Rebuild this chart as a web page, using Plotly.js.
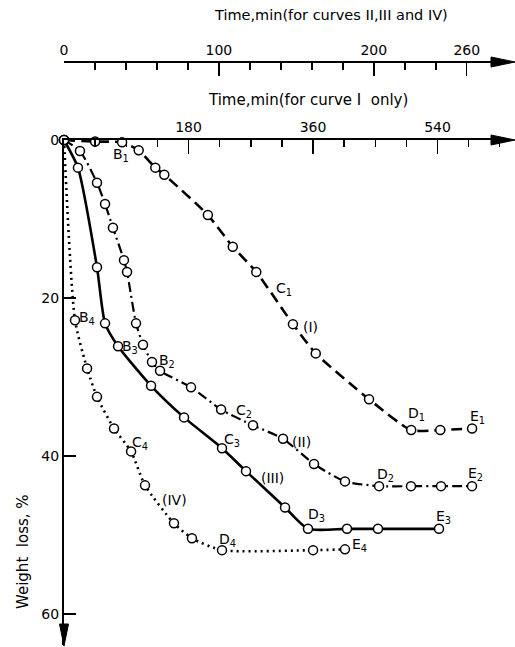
<!DOCTYPE html>
<html>
<head>
<meta charset="utf-8">
<script src="https://cdn.plot.ly/plotly-3.0.1.min.js"></script>
<style>html,body{margin:0;padding:0;background:#fff}#chart{width:515px;height:647px}</style>
</head>
<body>
<div id="chart"></div>
<script>
// Curve I (time axis: "for curve I only")
const tI = [0, 45, 84, 108, 132, 145, 208, 244, 278, 331, 364, 441, 502, 544, 590];
const wI = [0, 0.2, 0.3, 1.3, 3.5, 4.4, 9.5, 13.5, 16.7, 23.3, 27.0, 32.8, 36.7, 36.7, 36.5];
// Curve II
const tII = [0, 10.3, 21.3, 26.5, 31.6, 38.7, 40.7, 46.5, 51, 56.8, 62, 82, 101.4, 122, 141.4, 161.4, 181.4, 203.4, 224, 243.4, 263.4];
const wII = [0, 1.4, 5.4, 8.1, 11.1, 15.2, 16.7, 23.2, 25.9, 28.1, 29.2, 31.3, 34.1, 36.1, 37.8, 41.0, 43.2, 43.8, 43.8, 43.8, 43.8];
// Curve III
const tIII = [0, 9, 21.3, 26.5, 34.9, 56.2, 77.5, 102, 117.5, 142.7, 157.5, 182.7, 202.7, 242.1];
const wIII = [0, 3.5, 16.1, 23.2, 26.1, 31.1, 35.1, 39.0, 41.9, 46.5, 49.2, 49.2, 49.2, 49.2];
// Curve IV
const tIV = [0, 7.1, 14.9, 21.3, 32.3, 43.3, 52.3, 71, 82.6, 102, 160.8, 181.4];
const wIV = [0, 22.8, 28.9, 32.5, 36.5, 39.4, 43.7, 48.5, 50.4, 51.9, 51.9, 51.8];

// Tick labels
const topTicks = [0, 100, 200, 260];
const topMinor = [20, 40, 60, 80, 120, 140, 160, 180, 220, 240];
const lowTicks = [180, 360, 540];
const lowMinor = [45, 90, 135, 225, 270, 315, 405, 450, 495, 585, 630];
const yTicks = [0, 20, 40, 60];

// Point labels: [text, x, y, axis]
const pointLabels = [
  ['A', 3.9, -1.2, 'x'],
  ['B<sub>1</sub>', 83, 1.9, 'x2'], ['C<sub>1</sub>', 318, 18.9, 'x2'], ['(I)', 357, 23.7, 'x2'],
  ['D<sub>1</sub>', 509, 34.7, 'x2'], ['E<sub>1</sub>', 598, 35.1, 'x2'],
  ['B<sub>2</sub>', 66.4, 28.0, 'x'], ['C<sub>2</sub>', 116, 34.3, 'x'], ['(II)', 153.4, 38.2, 'x'],
  ['D<sub>2</sub>', 207.5, 42.4, 'x'], ['E<sub>2</sub>', 265.5, 42.3, 'x'],
  ['B<sub>3</sub>', 42.5, 26.2, 'x'], ['C<sub>3</sub>', 108.3, 38.0, 'x'], ['(III)', 134.7, 42.8, 'x'],
  ['D<sub>3</sub>', 163, 47.5, 'x'], ['E<sub>3</sub>', 245, 47.7, 'x'],
  ['B<sub>4</sub>', 14.8, 22.5, 'x'], ['C<sub>4</sub>', 49, 38.3, 'x'], ['(IV)', 71.5, 45.6, 'x'],
  ['D<sub>4</sub>', 105.7, 50.6, 'x'], ['E<sub>4</sub>', 190.8, 51.2, 'x']
];

const FONT = 'DejaVu Sans, Liberation Sans, sans-serif';
const marker = {symbol: 'circle', size: 9, color: '#fff', line: {color: '#000', width: 1.5}};

const traces = [
  {x: tI, y: wI, xaxis: 'x2', yaxis: 'y', mode: 'lines+markers', cliponaxis: false,
   line: {color: '#000', width: 2.6, dash: '11px,6px', shape: 'spline', smoothing: 0.6}, marker: marker},
  {x: tII, y: wII, xaxis: 'x', yaxis: 'y', mode: 'lines+markers', cliponaxis: false,
   line: {color: '#000', width: 2.2, dash: '10px,4px,2px,4px', shape: 'spline', smoothing: 0.6}, marker: marker},
  {x: tIII, y: wIII, xaxis: 'x', yaxis: 'y', mode: 'lines+markers', cliponaxis: false,
   line: {color: '#000', width: 2.6, shape: 'spline', smoothing: 0.6}, marker: marker},
  {x: tIV, y: wIV, xaxis: 'x', yaxis: 'y', mode: 'lines+markers', cliponaxis: false,
   line: {color: '#000', width: 2.6, dash: '2px,4px', shape: 'spline', smoothing: 0.6}, marker: marker}
];

// geometry helpers (paper coords): plot area 64..505 px horizontally, 62..645 px vertically
const W = 441, H = 583;
const px = v => (v - 64) / W;
const py = v => (645 - v) / H;
const yTop = py(140);

const annotations = pointLabels.map(p => ({
  text: p[0], x: p[1], y: p[2], xref: p[3], yref: 'y', showarrow: false,
  xanchor: 'center', yanchor: 'middle', font: {family: FONT, size: 14, color: '#000'}
}));
annotations.push({text: 'Time,min(for curves II,III and IV)', xref: 'paper', yref: 'paper',
  x: px(331), y: py(15), showarrow: false, xanchor: 'center', yanchor: 'middle',
  font: {family: FONT, size: 14.5, color: '#000'}});
annotations.push({text: 'Time,min(for curve I  only)', xref: 'paper', yref: 'paper',
  x: px(308), y: py(100), showarrow: false, xanchor: 'center', yanchor: 'middle',
  font: {family: FONT, size: 15, color: '#000'}});
annotations.push({text: 'Weight  loss, %', xref: 'paper', yref: 'paper',
  x: px(23), y: py(552), showarrow: false, textangle: -90, xanchor: 'center', yanchor: 'middle',
  font: {family: FONT, size: 15, color: '#000'}});

const tri = (tipX, tipY, dir) => {
  if (dir === 'right') {
    return `M ${px(tipX)} ${py(tipY)} L ${px(tipX - 24)} ${py(tipY - 5)} L ${px(tipX - 24)} ${py(tipY + 5)} Z`;
  }
  return `M ${px(tipX)} ${py(tipY)} L ${px(tipX - 4.5)} ${py(tipY - 22)} L ${px(tipX + 4.5)} ${py(tipY - 22)} Z`;
};
const shapes = [
  {type: 'path', xref: 'paper', yref: 'paper', path: tri(515, 62, 'right'), fillcolor: '#000', line: {color: '#000', width: 1}},
  {type: 'path', xref: 'paper', yref: 'paper', path: tri(515, 140, 'right'), fillcolor: '#000', line: {color: '#000', width: 1}},
  {type: 'path', xref: 'paper', yref: 'paper', path: tri(64, 646, 'down'), fillcolor: '#000', line: {color: '#000', width: 1}}
];

const axisCommon = {showgrid: false, zeroline: false, showline: true, linecolor: '#000', linewidth: 2,
  ticks: 'inside', tickcolor: '#000', tickwidth: 1.5, tickfont: {family: FONT, size: 14, color: '#000'}};

const layout = {
  width: 515, height: 647,
  margin: {l: 64, r: 10, t: 62, b: 2},
  paper_bgcolor: '#fff', plot_bgcolor: '#fff',
  showlegend: false,
  xaxis: Object.assign({}, axisCommon, {
    side: 'top', anchor: 'free', position: 1, domain: [0, 1], range: [0, 284.7],
    tickmode: 'array', tickvals: topTicks, ticktext: topTicks.map(String), ticklen: 13,
    minor: {tickmode: 'array', tickvals: topMinor, ticks: 'inside', ticklen: 7, tickwidth: 1.5, tickcolor: '#000'}
  }),
  xaxis2: Object.assign({}, axisCommon, {
    side: 'top', anchor: 'y', overlaying: 'x', range: [0, 637.6],
    tickmode: 'array', tickvals: lowTicks, ticktext: lowTicks.map(String), ticklen: 14,
    minor: {tickmode: 'array', tickvals: lowMinor, ticks: 'inside', ticklen: 7, tickwidth: 1.5, tickcolor: '#000'}
  }),
  yaxis: Object.assign({}, axisCommon, {
    domain: [0, yTop], range: [63.9, 0], anchor: 'x',
    tickmode: 'array', tickvals: yTicks, ticktext: yTicks.map(String), ticklen: 12
  }),
  annotations: annotations,
  shapes: shapes
};

Plotly.newPlot('chart', traces, layout, {displayModeBar: false, staticPlot: true});
</script>
</body>
</html>
